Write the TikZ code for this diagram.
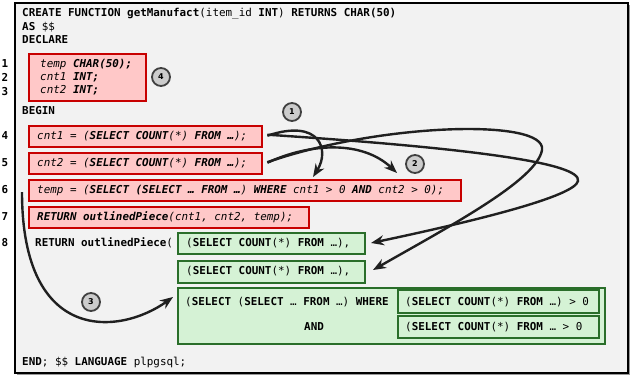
\documentclass[tikz,border=0pt]{standalone}
\usepackage{fontspec}
\setmainfont{DejaVu Sans Mono}[
  BoldFont={DejaVu Sans Mono Bold},
  ItalicFont={DejaVu Sans Mono Oblique},
  BoldItalicFont={DejaVu Sans Mono Bold Oblique}]
\newfontfamily\badgefont{DejaVu Sans Bold}
\usetikzlibrary{arrows.meta}

\definecolor{bg}{HTML}{F2F2F2}
\definecolor{redline}{HTML}{C80000}
\definecolor{redfill}{HTML}{FFC8C8}
\definecolor{grnline}{HTML}{2A6E2A}
\definecolor{grnfill}{HTML}{D5F2D5}
\definecolor{ink}{HTML}{202020}
\definecolor{badgeline}{HTML}{404040}
\definecolor{badgefill}{HTML}{CCCCCC}

\newcommand{\kw}[1]{\textbf{#1}}

\begin{document}
\begin{tikzpicture}[x=1bp,y=-1bp,
  every node/.style={font=\fontsize{10.9bp}{13bp}\selectfont},
  txt/.style={anchor=base west, inner sep=0pt},
  lnum/.style={anchor=base, inner sep=0pt, font=\fontsize{10.9bp}{13bp}\selectfont\bfseries},
  redbox/.style={draw=redline, fill=redfill, line width=2.4bp, anchor=north west,
    inner sep=0pt, minimum height=21bp},
  grnbox/.style={draw=grnline, fill=grnfill, line width=2.4bp, anchor=north west,
    inner sep=0pt, minimum height=21bp},
  badge/.style={circle, draw=badgeline, fill=badgefill, line width=1.8bp,
    minimum size=18bp, inner sep=0pt, font=\badgefont\fontsize{8bp}{8bp}\selectfont},
  flow/.style={draw=ink, line width=2.4bp, -{Stealth[length=13bp,width=10bp]}}]

\useasboundingbox (0,0) rectangle (633,377);

% frame of the function body, with a soft drop shadow
\fill[black!40] (17,5) rectangle (630,375);
\draw[line width=2.4bp, fill=bg] (15,3) rectangle (628,373);

% header
\node[txt] (hdr) at (22,16) {\kw{CREATE FUNCTION getManufact}(item\_id \kw{INT}) \kw{RETURNS CHAR(50)}};
\node[txt] (as) at (22,30) {\kw{AS} \$\$};
\node[txt] (decl) at (22,43) {\kw{DECLARE}};

% declarations
\node[redbox, minimum width=117bp, minimum height=47bp] (r1) at (27.5,52.5) {};
\node[txt] (r1a) at (40,67) {\itshape temp \kw{CHAR(50);}};
\node[txt] (r1b) at (40,80) {\itshape cnt1 \kw{INT;}};
\node[txt] (r1c) at (40,93) {\itshape cnt2 \kw{INT;}};

\node[txt] (begin) at (22,114) {\kw{BEGIN}};

% statements of the original body
\node[redbox, minimum width=233bp] (r4) at (28,125) {};
\node[txt] (r4t) at (37,139) {\itshape cnt1 = (\kw{SELECT COUNT}(*) \kw{FROM …});};
\node[redbox, minimum width=233bp] (r5) at (28,152) {};
\node[txt] (r5t) at (37,166) {\itshape cnt2 = (\kw{SELECT COUNT}(*) \kw{FROM …});};
\node[redbox, minimum width=432bp] (r6) at (28,179) {};
\node[txt] (r6t) at (37,193) {\itshape temp = (\kw{SELECT (SELECT … FROM …}) \kw{WHERE} cnt1 > 0 \kw{AND} cnt2 > 0);};
\node[redbox, minimum width=280bp] (r7) at (28,206) {};
\node[txt] (r7t) at (37,220) {\itshape \kw{RETURN outlinedPiece}(cnt1, cnt2, temp);};

% rewritten return statement
\node[txt] (ret) at (35,246) {\kw{RETURN outlinedPiece}(};
\node[grnbox, minimum width=187bp] (g1) at (177,232) {};
\node[txt] (g1t) at (186,246.5) {(\kw{SELECT COUNT}(*) \kw{FROM} …),};
\node[grnbox, minimum width=187bp, minimum height=22bp] (g2) at (177,260) {};
\node[txt] (g2t) at (186,274.5) {(\kw{SELECT COUNT}(*) \kw{FROM} …),};
\node[grnbox, minimum width=427bp, minimum height=56bp] (g3) at (177,287) {};
\node[txt] (g3t) at (185,305) {(\kw{SELECT} (\kw{SELECT} … \kw{FROM} …) \kw{WHERE}};
\node[txt] (and) at (304,330) {\kw{AND}};
\node[grnbox, minimum width=201bp, minimum height=23bp] (ga) at (397,289) {};
\node[txt] (gat) at (405,305) {(\kw{SELECT COUNT}(*) \kw{FROM} …) > 0};
\node[grnbox, minimum width=201bp, minimum height=22bp] (gb) at (397,315) {};
\node[txt] (gbt) at (405,330) {(\kw{SELECT COUNT}(*) \kw{FROM} … > 0};

\node[txt] (end) at (22,365) {\kw{END}; \$\$ \kw{LANGUAGE} plpgsql;};

% line numbers
\node[lnum] (n1) at (5,67) {1};
\node[lnum] (n2) at (5,81) {2};
\node[lnum] (n3) at (5,95) {3};
\node[lnum] (n4) at (5,139) {4};
\node[lnum] (n5) at (5,166) {5};
\node[lnum] (n6) at (5,193) {6};
\node[lnum] (n7) at (5,220) {7};
\node[lnum] (n8) at (5,246) {8};

% numbered markers
\node[badge] (m4) at (161,77) {4};
\node[badge] (m1) at (292,112) {1};
\node[badge] (m2) at (415,164) {2};
\node[badge] (m3) at (91,302) {3};

% end points of the rewrite arrows
\coordinate (t1) at (313,177);
\coordinate (t2) at (397,173);
\coordinate (tg1) at (371,243);
\coordinate (tg2) at (373,270);
\coordinate (s3) at (22,192);
\coordinate (t3) at (173,297);

% data flow
\draw[flow] ([xshift=4bp,yshift=1bp]r4.east) .. controls (320,118) and (330,150) .. (t1);
\draw[flow] ([xshift=4bp,yshift=1bp]r5.east) .. controls (310,143) and (362,140) .. (t2);
\draw[flow] ([xshift=4bp,yshift=2bp]r4.east) .. controls (470,148) and (582,163) .. (578,181)
  .. controls (575,196) and (480,220) .. (tg1);
\draw[flow] ([xshift=4bp,yshift=1.5bp]r5.east) .. controls (380,123) and (547,118) .. (542,150)
  .. controls (537,180) and (450,226) .. (tg2);
\draw[flow] (s3) .. controls (22,345) and (120,335) .. (t3);
\end{tikzpicture}
\end{document}
